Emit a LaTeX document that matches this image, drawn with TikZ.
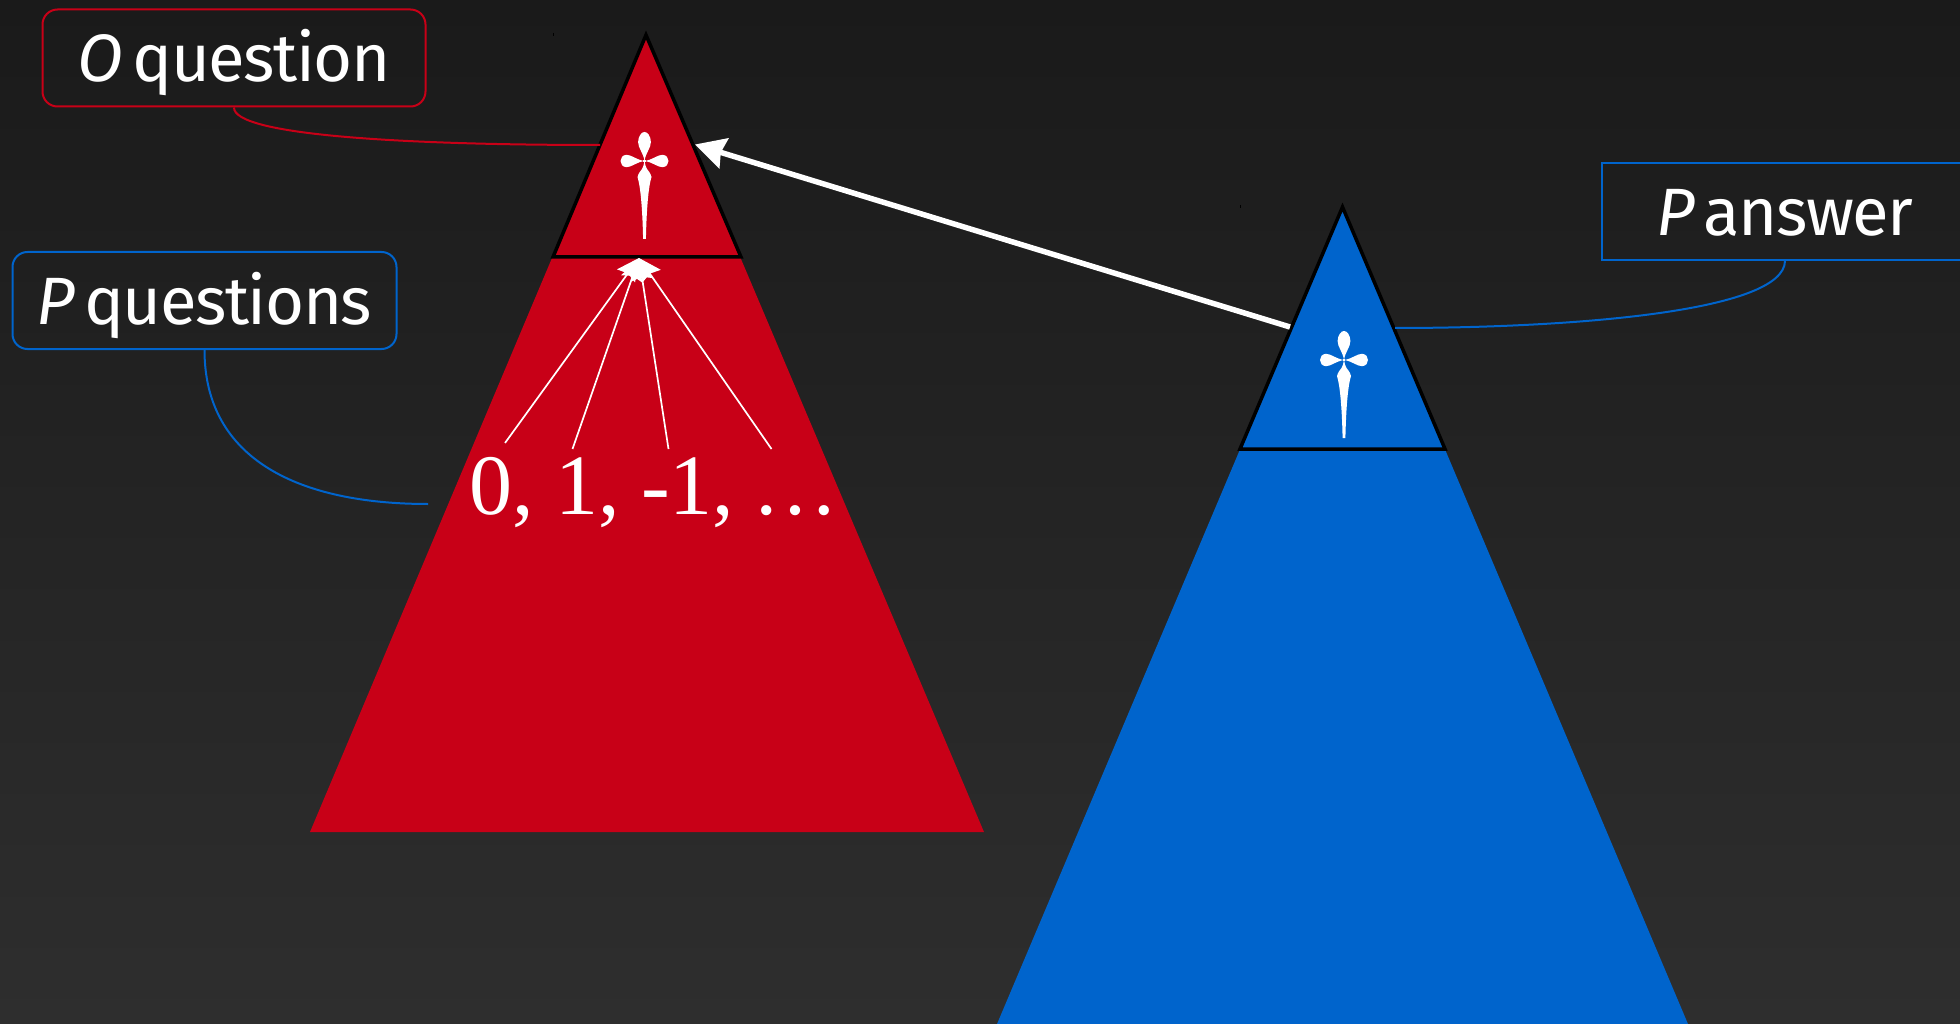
\documentclass[tikz,border=0pt]{standalone}
\usepackage{fontspec}
\usetikzlibrary{arrows.meta}
\setmainfont{Liberation Serif}
\newfontfamily\labfont{Fira Sans}[LetterSpace=-2.2]
\definecolor{redc}{HTML}{C80017}
\definecolor{bluec}{HTML}{0064CC}
\definecolor{bgtop}{HTML}{1A1A1A}
\definecolor{bgbot}{HTML}{2E2E2E}
\tikzset{
  x=1pt,y=-1pt,
  labelbox/.style={line width=2pt,inner sep=0pt,text=white,text height=47.4pt,text depth=0pt,
     minimum height=97pt,font=\labfont\fontsize{67}{70}\selectfont},
  roundbox/.style={labelbox,rounded corners=15pt},
  leader/.style={line width=2pt},
  sep/.style={draw=black,line width=3.5pt,line join=miter,miter limit=10},
  thinarrow/.style={draw=white,fill=white,line width=1.7pt,-{Stealth[length=22pt,width=22pt,inset=3pt]}},
  bigarrow/.style={draw=white,line width=5.5pt,-{Stealth[length=30pt,width=31pt,inset=3pt]}},
  tick/.style={draw=black,line width=1pt},
  dagger/.pic={
    % top lobe
    \fill[white] (0,0) .. controls (-1,-8) and (-6.5,-13) .. (-6.4,-19)
      .. controls (-6.2,-25) and (-3,-29) .. (0,-29)
      .. controls (3,-29) and (6.2,-25) .. (6.4,-19)
      .. controls (6.5,-13) and (1,-8) .. (0,0) -- cycle;
    % right lobe
    \fill[white] (0,0) .. controls (8,-1) and (13,-6.3) .. (18,-6.2)
      .. controls (22,-6) and (24,-3) .. (24,0)
      .. controls (24,3) and (22,6) .. (18,6.2)
      .. controls (13,6.3) and (8,1) .. (0,0) -- cycle;
    % left lobe
    \fill[white] (0,0) .. controls (-8,-1) and (-13,-6.3) .. (-18,-6.2)
      .. controls (-22,-6) and (-24,-3) .. (-24,0)
      .. controls (-24,3) and (-22,6) .. (-18,6.2)
      .. controls (-13,6.3) and (-8,1) .. (0,0) -- cycle;
    % blade
    \fill[white] (0,0) .. controls (1,4) and (1,6) .. (2.5,8)
      .. controls (4,10) and (6,12) .. (7,16)
      .. controls (4.5,24) and (2.2,42) .. (1.4,78)
      -- (-1.4,78)
      .. controls (-2.2,42) and (-4.5,24) .. (-7,16)
      .. controls (-6,12) and (-4,10) .. (-2.5,8)
      .. controls (-1,6) and (-1,4) .. (0,0) -- cycle;
    \fill[white] (-1.2,-1.2) rectangle (1.2,1.2);
  }
}
\begin{document}
\begin{tikzpicture}
\useasboundingbox (0,0) rectangle (1960,1024);
\clip (0,0) rectangle (1960,1024);
\shade[top color=bgtop,bottom color=bgbot] (0,0) rectangle (1960,1024);

% coordinates
\coordinate (ra) at (646,35);
\coordinate (rl) at (553,257);
\coordinate (rr) at (741,257);
\coordinate (ba) at (1342.5,207);
\coordinate (bl) at (1240,449);
\coordinate (br) at (1445,449);
\coordinate (focus) at (639,258);
\coordinate (s1) at (505,443);
\coordinate (s2) at (572.5,449);
\coordinate (s3) at (668.5,449);
\coordinate (s4) at (771.5,449);
\coordinate (redend) at (600,145);
\coordinate (blueend) at (428,504);
\coordinate (ansend) at (1395,328);
\coordinate (arrfrom) at (1290,327);
\coordinate (arrto) at (695,144.5);

% triangles
\fill[redc] (646,35) -- (984,832) -- (310,832) -- cycle;
\fill[bluec] (1342.5,207) -- (1688,1024) -- (997,1024) -- cycle;
\draw[sep] (ra) -- (rr) -- (rl) -- cycle;
\draw[sep] (ba) -- (br) -- (bl) -- cycle;
\draw[tick] (553.5,33) -- (553.5,36);
\draw[tick] (1240.5,205) -- (1240.5,208);

% daggers
\pic at (644.5,161) {dagger};
\pic at (1344,360) {dagger};

% label boxes
\node[roundbox,draw=redc,minimum width=383pt] (oq) at (234,58) {\textit{O}\hspace{-6pt} question};
\node[roundbox,draw=bluec,minimum width=384pt] (pq) at (204.5,300.5) {\textit{P}\hspace{-6pt} questions};
\node[labelbox,draw=bluec,minimum width=366pt] (pa) at (1785,211.5) {\textit{P}\hspace{-6pt} answer};

% leaders
\draw[leader,redc] (oq.south) .. controls (233.6,135) and (400,145) .. (redend);
\draw[leader,bluec] (pq.south) .. controls (204.5,460) and (300,504) .. (blueend);
\draw[leader,bluec] (pa.south) .. controls (1784,312) and (1570,328) .. (ansend);

% numbers
\node[text=white,font=\fontsize{86}{90}\selectfont,inner sep=0pt,anchor=base west] (nums) at (469,514) {0, 1, -1,\hspace{-3pt} …};

% arrows
\draw[thinarrow] (s1) -- (focus);
\draw[thinarrow] (s2) -- (focus);
\draw[thinarrow] (s3) -- (focus);
\draw[thinarrow] (s4) -- (focus);
\draw[bigarrow] (arrfrom) -- (arrto);
\end{tikzpicture}
\end{document}
